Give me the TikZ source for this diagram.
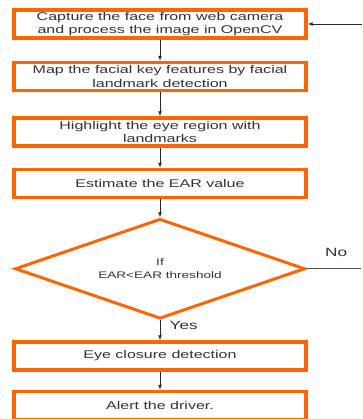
\documentclass[tikz,border=0pt]{standalone}
\usepackage{fontspec}
\setmainfont[FakeStretch=1.43]{Liberation Sans}
\usetikzlibrary{positioning,shapes.geometric}
\definecolor{flowOrange}{RGB}{255,102,0}

\begin{document}
\begin{tikzpicture}[
  x=1pt, y=1pt,
  stepbox/.style={draw=flowOrange, line width=3.5pt, minimum width=292pt,
    minimum height=28pt, inner sep=0pt, align=center},
  decision/.style={diamond, draw=flowOrange, line width=3pt, aspect=2.9,
    minimum width=290pt, minimum height=100pt, inner sep=0pt, align=center,
    font=\fontsize{9.5}{13}\selectfont},
  flow/.style={draw, black!85, line width=0.7pt, -latex},
  every node/.style={font=\fontsize{11.2}{13.6}\selectfont, text=black!80}
]
\useasboundingbox (0,0) rectangle (362,-419);

\node[stepbox] (capture) at (160,-24)
  {Capture the face from web camera\\and process the image in OpenCV};
\node[stepbox, below=21pt of capture] (mapping)
  {Map the facial key features by facial\\landmark detection};
\node[stepbox, below=24pt of mapping] (eyes)
  {Highlight the eye region with\\landmarks};
\node[stepbox, below=20pt of eyes] (ear) {Estimate the EAR value};
\node[decision, below=18pt of ear] (check) {If\\EAR<EAR threshold};
\node[stepbox, below=20pt of check] (closure) {Eye closure detection};
\node[stepbox, below=18pt of closure] (alert) {Alert the driver.};

\coordinate[right=54pt of capture] (loopin);
\coordinate[right=54pt of check] (noout);

% main flow
\draw[flow] (capture) -- (mapping);
\draw[flow] (mapping) -- (eyes);
\draw[flow] (eyes) -- (ear);
\draw[flow] (ear) -- (check);
\draw[flow] (check) -- node[pos=0.25, right=6pt, font=\fontsize{12}{14}\selectfont] {Yes} (closure);
\draw[flow] (closure) -- (alert);

% loop back
\draw[flow] (loopin) -- (capture);
\draw[black!70, line width=0.7pt] (check) -- node[pos=0.55, above=8pt, font=\fontsize{12}{14}\selectfont] {No} (noout);
\end{tikzpicture}
\end{document}
